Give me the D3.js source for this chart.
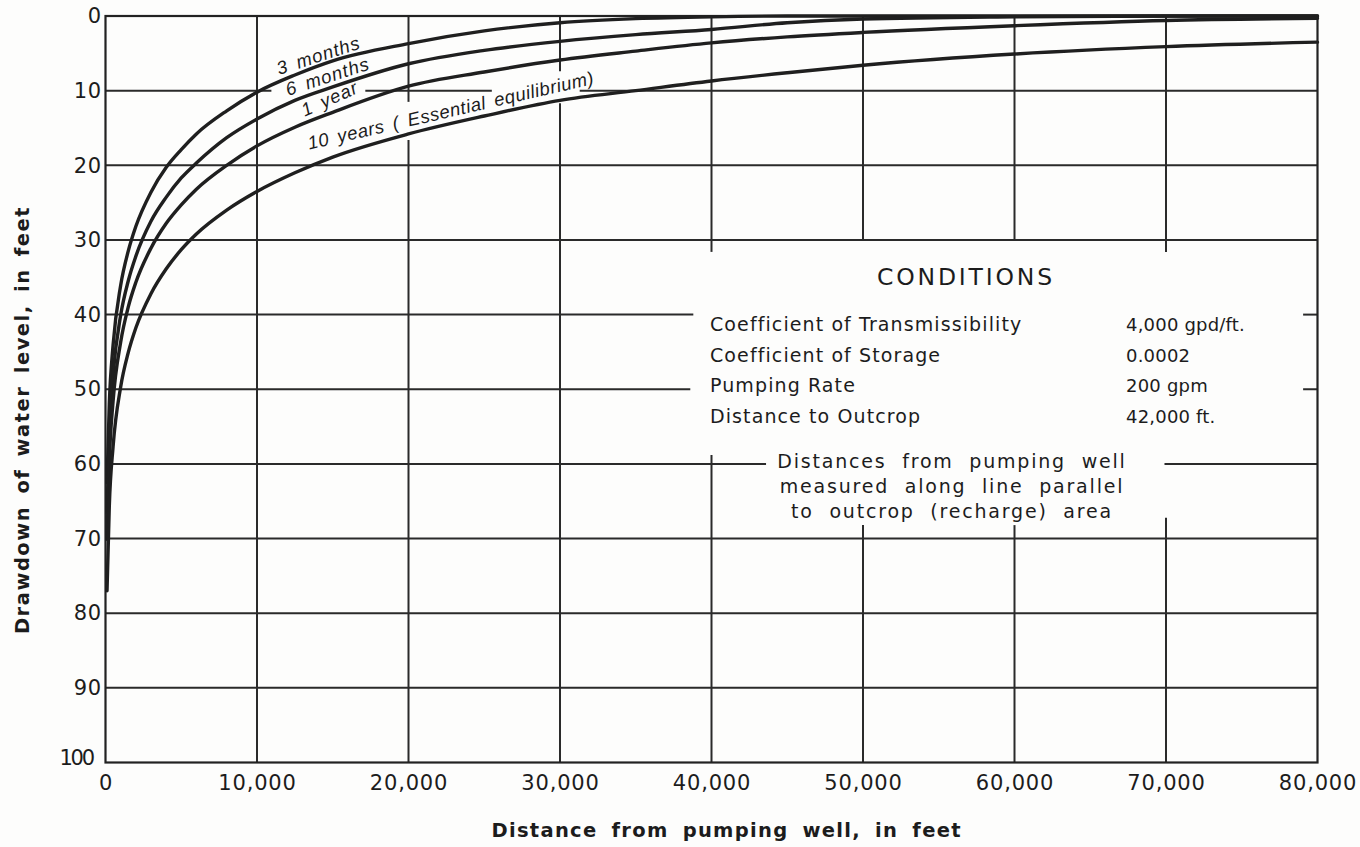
<!DOCTYPE html>
<html>
<head>
<meta charset="utf-8">
<script src="https://cdn.jsdelivr.net/npm/d3@7/dist/d3.min.js"></script>
<style>
  html, body { margin: 0; padding: 0; background: #fdfdfc; }
  svg { display: block; }
  text { fill: #1c1c1c; font-family: "DejaVu Sans", sans-serif; }
  text.curve-label { font-family: "Liberation Sans", Arial, sans-serif; font-style: italic; }
</style>
</head>
<body>
<svg id="chart" width="1360" height="847"></svg>
<script>
// Distance from pumping well (ft) at which drawdown was read for each curve
const distance = [100, 250, 500, 1000, 1500, 2000, 3000, 4000, 5000, 6000, 8000, 10000,
  12500, 15000, 20000, 25000, 30000, 35000, 40000, 45000, 50000, 60000, 70000, 80000];

// Drawdown of water level (ft) after each pumping period
const drawdown3Months = [62.5, 52.0, 44.1, 36.1, 31.5, 28.2, 23.6, 20.3, 17.9, 15.8, 12.7, 10.2,
  7.9, 6.0, 3.7, 2.0, 0.9, 0.35, 0.1, 0, 0, 0, 0, 0];
const drawdown6Months = [66.5, 56.0, 48.1, 40.1, 35.5, 32.2, 27.5, 24.3, 21.7, 19.7, 16.3, 13.8,
  11.3, 9.5, 6.4, 4.6, 3.4, 2.5, 1.8, 0.9, 0.4, 0.1, 0, 0];
const drawdown1Year = [70.1, 59.6, 51.6, 43.7, 39.0, 35.7, 31.1, 27.8, 25.3, 23.2, 20.0, 17.4,
  14.9, 12.9, 9.4, 7.5, 5.9, 4.7, 3.6, 2.8, 2.2, 1.3, 0.6, 0.3];
const drawdown10Years = [77.0, 65.7, 57.7, 49.7, 45.1, 41.8, 37.2, 33.9, 31.3, 29.2, 26.0, 23.5,
  21.0, 18.9, 15.8, 13.4, 11.3, 10.0, 8.7, 7.6, 6.6, 5.1, 4.1, 3.5];

const seriesNames = ["3 months", "6 months", "1 year", "10 years ( Essential equilibrium)"];

// Axis ticks
const xTicks = [0, 10000, 20000, 30000, 40000, 50000, 60000, 70000, 80000];
const yTicks = [0, 10, 20, 30, 40, 50, 60, 70, 80, 90, 100];

// Conditions of the pumping test
const conditionLabels = ["Coefficient of Transmissibility", "Coefficient of Storage", "Pumping Rate", "Distance to Outcrop"];
const conditionValues = ["4,000 gpd/ft.", "0.0002", "200 gpm", "42,000 ft."];
const noteLines = ["Distances  from  pumping  well", "measured  along  line  parallel", "to  outcrop  (recharge)  area"];

// ---------------------------------------------------------------------------
(function draw() {
const svg = d3.select("#chart");
const plotLeft = 105.5, plotRight = 1317.5, plotTop = 16, plotBottom = 762.5;

const x = d3.scaleLinear().domain([0, 80000]).range([plotLeft, plotRight]);
const y = d3.scaleLinear().domain([0, 100]).range([plotTop, plotBottom]);

// Grid lines, interrupted where lettering sits on the sheet (segments in data units)
const hSegments = {
  10: [[0, 10950], [17150, 25500], [31300, 80000]],
  40: [[0, 38800], [79050, 80000]],
  50: [[0, 38600], [79050, 80000]],
  60: [[0, 43600], [69900, 80000]]
};
const vSegments = {
  20000: [[0, 11.5], [16.6, 100]],
  30000: [[0, 7.4], [11.7, 100]],
  40000: [[0, 31.6], [58.8, 100]],
  50000: [[0, 30], [68.2, 100]],
  60000: [[0, 30], [68.2, 100]],
  70000: [[0, 31.6], [67.2, 100]]
};

const grid = svg.append("g").attr("stroke", "#2a2a2a").attr("stroke-width", 2).attr("fill", "none");

yTicks.filter(v => v > 0 && v < 100).forEach(v => {
  const segs = hSegments[v] || [[0, 80000]];
  segs.forEach(s => grid.append("line")
    .attr("x1", x(s[0])).attr("x2", x(s[1]))
    .attr("y1", y(v)).attr("y2", y(v)));
});
xTicks.filter(v => v > 0 && v < 80000).forEach(v => {
  const segs = vSegments[v] || [[0, 100]];
  segs.forEach(s => grid.append("line")
    .attr("x1", x(v)).attr("x2", x(v))
    .attr("y1", y(s[0])).attr("y2", y(s[1])));
});

// Frame
svg.append("rect")
  .attr("x", plotLeft).attr("y", plotTop)
  .attr("width", plotRight - plotLeft).attr("height", plotBottom - plotTop)
  .attr("fill", "none").attr("stroke", "#222").attr("stroke-width", 2.2);

// Axes
const xAxis = d3.axisBottom(x).tickValues(xTicks).tickFormat(d3.format(",")).tickSize(0).tickPadding(13);
const gx = svg.append("g").attr("transform", `translate(0,${plotBottom})`).call(xAxis);
gx.select(".domain").remove();
gx.selectAll("text").style("font-size", "21px").attr("letter-spacing", "0.8px").attr("fill", "#1c1c1c");

const yAxis = d3.axisLeft(y).tickValues(yTicks).tickSize(0).tickPadding(4);
const gy = svg.append("g").attr("transform", `translate(${plotLeft},0)`).call(yAxis);
gy.select(".domain").remove();
gy.selectAll("text").style("font-size", "21px").attr("letter-spacing", "0.5px").attr("fill", "#1c1c1c")
  .attr("dy", d => d === 100 ? "0.1em" : "0.32em")
  .attr("dx", d => d === 100 ? "-6" : "0")
  .attr("textLength", d => d === 100 ? 36 : null);

// Axis titles
svg.append("text")
  .attr("transform", `translate(${x(41000)},${837})`)
  .attr("text-anchor", "middle")
  .style("font-size", "19.5px").style("font-weight", "bold")
  .attr("letter-spacing", "1.3px").attr("word-spacing", "6px")
  .text("Distance from pumping well, in feet");

svg.append("text")
  .attr("transform", `translate(29,${420}) rotate(-90)`)
  .attr("text-anchor", "middle")
  .style("font-size", "19.5px").style("font-weight", "bold")
  .attr("letter-spacing", "1.5px").attr("word-spacing", "4px")
  .text("Drawdown of water level, in feet");

// Drawdown curves
const allSeries = [drawdown3Months, drawdown6Months, drawdown1Year, drawdown10Years];
const line = d3.line()
  .x(d => x(d[0]))
  .y(d => y(d[1]))
  .curve(d3.curveMonotoneX);

svg.append("g").selectAll("path")
  .data(allSeries.map(s => distance.map((d, i) => [d, s[i]])))
  .join("path")
  .attr("d", line)
  .attr("fill", "none")
  .attr("stroke", "#1f1f1f")
  .attr("stroke-width", 3.4)
  .attr("stroke-linejoin", "round")
  .attr("stroke-linecap", "round");

// Curve labels, lettered along each curve
const curveLabelPlacement = [
  { at: [11450, 7.9], angle: -18, spacing: 1 },
  { at: [12050, 10.7], angle: -18, spacing: 1 },
  { at: [13150, 13.5], angle: -24, spacing: 1 },
  { at: [13450, 17.9], angle: -13, spacing: 0.55 }
];
svg.append("g").selectAll("text")
  .data(seriesNames)
  .join("text")
  .attr("class", "curve-label")
  .attr("transform", (d, i) => {
    const p = curveLabelPlacement[i];
    return `translate(${x(p.at[0])},${y(p.at[1])}) rotate(${p.angle})`;
  })
  .style("font-size", "18.5px")
  .attr("letter-spacing", (d, i) => curveLabelPlacement[i].spacing + "px")
  .attr("word-spacing", "3px")
  .style("white-space", "pre")
  .text(d => d);

// Conditions block
const cond = svg.append("g");
cond.append("text")
  .attr("x", 966).attr("y", 285)
  .attr("text-anchor", "middle")
  .style("font-size", "23.5px")
  .attr("letter-spacing", "2.8px")
  .text("CONDITIONS");

cond.selectAll("text.lbl")
  .data(conditionLabels)
  .join("text").attr("class", "lbl")
  .attr("x", 710).attr("y", (d, i) => 331 + i * 30.7)
  .style("font-size", "19px")
  .attr("letter-spacing", "1.1px")
  .text(d => d);

cond.selectAll("text.val")
  .data(conditionValues)
  .join("text").attr("class", "val")
  .attr("x", 1126).attr("y", (d, i) => 331 + i * 30.7)
  .style("font-size", "18px")
  .attr("letter-spacing", "0.2px")
  .text(d => d);

cond.selectAll("text.note")
  .data(noteLines)
  .join("text").attr("class", "note")
  .attr("x", 952).attr("y", (d, i) => 468 + i * 25)
  .attr("text-anchor", "middle")
  .style("font-size", "19px")
  .attr("letter-spacing", "1.8px")
  .attr("word-spacing", "0px")
  .style("white-space", "pre")
  .text(d => d);
})();
</script>
</body>
</html>
